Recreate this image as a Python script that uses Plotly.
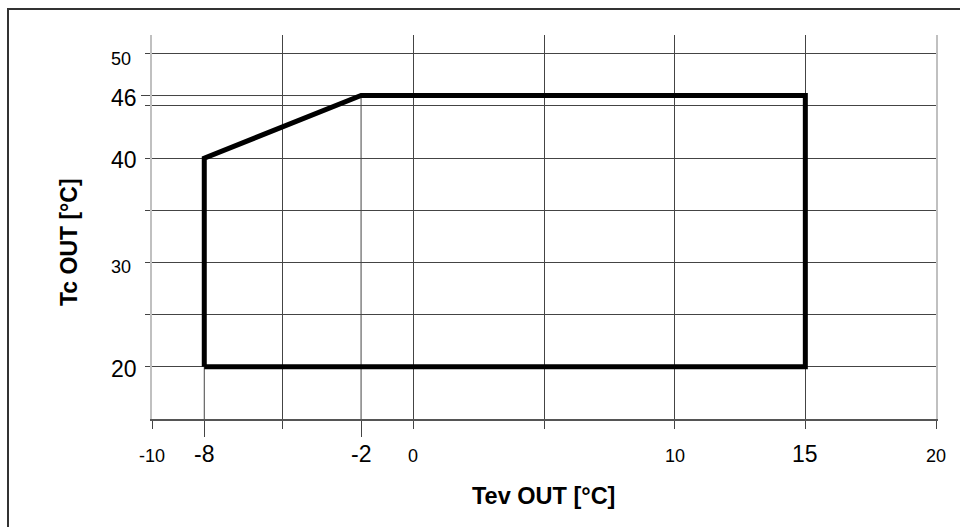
import plotly.graph_objects as go

# ---- data ----
x_tick_vals = [-10, -5, 0, 5, 10, 15, 20]
x_small_labels = [-10, 0, 10, 20]
x_big_labels = [-8, -2, 15]
y_tick_vals = [20, 25, 30, 35, 40, 45, 50]
y_small_labels = [50, 30]
y_big_labels = [46, 40, 20]
env_x = [-8, -8, -2, 15, 15, -8]
env_y = [20, 40, 46, 46, 20, 20]
x_title = "Tev OUT [°C]"
y_title = "Tc OUT [°C]"

FONT = "Liberation Sans, Arial, sans-serif"
GRID = "#444444"

L, R, T, B = 152, 24, 35, 108
W, H = 960, 527
PW, PH = W - L - R, H - T - B

fig = go.Figure()
fig.add_trace(go.Scatter(
    x=env_x, y=env_y, mode="lines",
    line=dict(color="black", width=5),
    hoverinfo="skip", showlegend=False,
))

shapes = []
# vertical reference lines from envelope corners down to the axis
for i in (1, 2):
    shapes.append(dict(type="line", xref="x", yref="y",
                       x0=env_x[i], x1=env_x[i], y0=15, y1=env_y[i],
                       line=dict(color=GRID, width=1), layer="below"))
# horizontal reference line at 46 from the left edge to the corner
shapes.append(dict(type="line", xref="x", yref="y",
                   x0=-10, x1=env_x[2], y0=env_y[2], y1=env_y[2],
                   line=dict(color=GRID, width=1), layer="below"))
# outer frame
shapes.append(dict(type="rect", xref="paper", yref="paper",
                   x0=(8 - L) / PW, x1=(W + 10 - L) / PW,
                   y0=-(H + 10 - (T + PH)) / PH, y1=(T + PH - 9) / PH,
                   line=dict(color="#333333", width=2), layer="below"))

annotations = []
for v in x_small_labels:
    annotations.append(dict(x=v, y=0, xref="x", yref="paper", text=str(v),
                            showarrow=False, xanchor="center", yanchor="middle",
                            yshift=-37, font=dict(family=FONT, size=18, color="black")))
for v in x_big_labels:
    annotations.append(dict(x=v, y=0, xref="x", yref="paper", text=str(v),
                            showarrow=False, xanchor="center", yanchor="middle",
                            yshift=-35, font=dict(family=FONT, size=23, color="black")))
for v in y_small_labels:
    annotations.append(dict(x=0, y=v, xref="paper", yref="y", text=str(v),
                            showarrow=False, xanchor="right", yanchor="middle",
                            xshift=-19, yshift=-5, font=dict(family=FONT, size=18, color="black")))
for v in y_big_labels:
    annotations.append(dict(x=0, y=v, xref="paper", yref="y", text=str(v),
                            showarrow=False, xanchor="right", yanchor="middle",
                            xshift=-13, yshift=-2, font=dict(family=FONT, size=23, color="black")))
annotations.append(dict(x=(543 - L) / PW, y=-(496 - (T + PH)) / PH, xref="paper", yref="paper",
                        text="<b>" + x_title + "</b>", showarrow=False,
                        xanchor="center", yanchor="middle",
                        font=dict(family=FONT, size=23.5, color="black")))
annotations.append(dict(x=(69 - L) / PW, y=(T + PH - 242) / PH, xref="paper", yref="paper",
                        text="<b>" + y_title + "</b>", showarrow=False, textangle=-90,
                        xanchor="center", yanchor="middle",
                        font=dict(family=FONT, size=23, color="black")))

fig.update_layout(
    width=W, height=H,
    margin=dict(l=L, r=R, t=T, b=B),
    paper_bgcolor="white", plot_bgcolor="white",
    shapes=shapes, annotations=annotations,
    xaxis=dict(range=[-10, 20], tickvals=x_tick_vals, showticklabels=False,
               showgrid=True, gridcolor=GRID, gridwidth=1, zeroline=False,
               ticks="outside", ticklen=8, tickcolor=GRID, tickwidth=1,
               showline=True, linecolor="#555555", linewidth=2,
               minor=dict(tickvals=x_big_labels[:2], ticks="outside", ticklen=16,
                          tickcolor=GRID, tickwidth=1, showgrid=False),
               fixedrange=True),
    yaxis=dict(range=[15, 51.8], tickvals=y_tick_vals, showticklabels=False,
               showgrid=True, gridcolor=GRID, gridwidth=1, zeroline=False,
               ticks="outside", ticklen=5, tickcolor=GRID, tickwidth=1,
               showline=True, linecolor="#c0c0c0", linewidth=2, mirror=True,
               minor=dict(tickvals=y_big_labels[:1], ticks="outside", ticklen=9,
                          tickcolor=GRID, tickwidth=1, showgrid=False),
               fixedrange=True),
    showlegend=False,
)

fig.write_html("out.html", config={"displayModeBar": False})
